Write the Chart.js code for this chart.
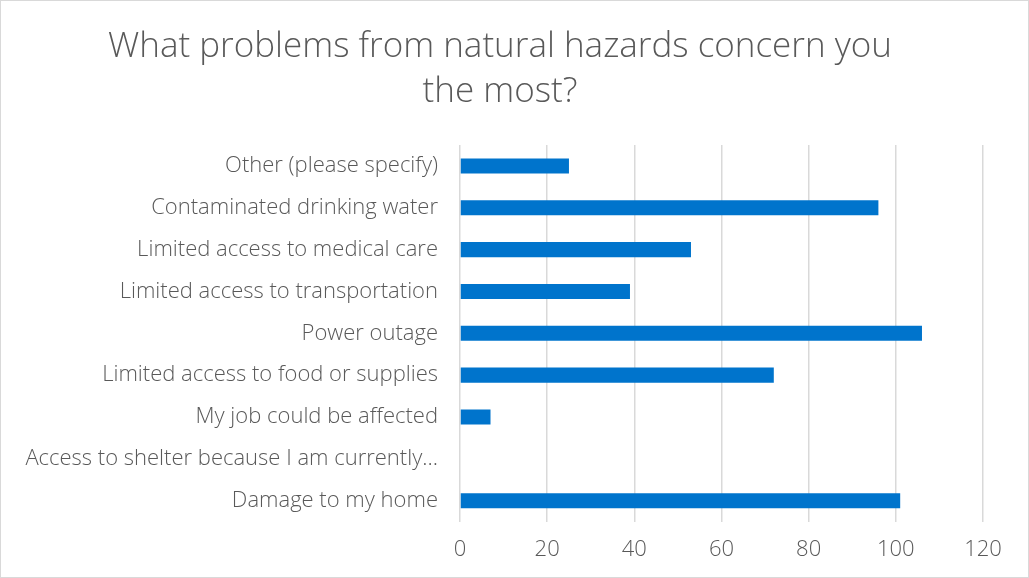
<!DOCTYPE html>
<html>
<head>
<meta charset="utf-8">
<script src="https://cdn.jsdelivr.net/npm/chart.js@4"></script>
<style>
  html, body { margin: 0; padding: 0; background: #fff; }
  #wrap { width: 1029px; height: 578px; position: relative; }
  canvas { display: block; outline: 1px solid #d9d9d9; outline-offset: -1px; }
</style>
</head>
<body>
<div id="wrap"><canvas id="grafico"></canvas></div>
<script>
// categorias de abajo hacia arriba en el eje
const categorias = [
  'Damage to my home',
  'Access to shelter because I am currently\u2026',
  'My job could be affected',
  'Limited access to food or supplies',
  'Power outage',
  'Limited access to transportation',
  'Limited access to medical care',
  'Contaminated drinking water',
  'Other (please specify)'
];
const respuestas = [101, 0, 7, 72, 106, 39, 53, 96, 25];
const marcasEje = [0, 20, 40, 60, 80, 100, 120];

const fuente = "'Open Sans', 'Liberation Sans', sans-serif";
const gris = '#595959';

const ctx = document.getElementById('grafico').getContext('2d');
new Chart(ctx, {
  type: 'bar',
  data: {
    // se invierte para que "Other" quede arriba
    labels: categorias.slice().reverse(),
    datasets: [{
      data: respuestas.slice().reverse(),
      backgroundColor: '#0074cc',
      borderWidth: 0,
      barPercentage: 0.72,
      categoryPercentage: 0.5
    }]
  },
  options: {
    indexAxis: 'y',
    responsive: true,
    maintainAspectRatio: false,
    animation: false,
    layout: { padding: { left: 17, right: 46, top: 12, bottom: 0 } },
    plugins: {
      legend: { display: false },
      tooltip: { enabled: false },
      title: {
        display: true,
        text: ['What problems from natural hazards concern you', 'the most?'],
        color: gris,
        font: { family: fuente, size: 35, weight: '300', lineHeight: 1.3 },
        padding: { top: 12, bottom: 30 }
      }
    },
    scales: {
      x: {
        min: 0,
        max: 120,
        afterBuildTicks: (eje) => { eje.ticks = marcasEje.map(v => ({ value: v })); },
        grid: { color: '#d9d9d9', lineWidth: 1.5, drawTicks: false },
        border: { display: false },
        ticks: { color: gris, font: { family: fuente, size: 22, weight: '300' }, padding: 15 }
      },
      y: {
        grid: { display: false, drawTicks: false },
        border: { display: false },
        afterFit: (eje) => { eje.width = 443; },
        ticks: { color: gris, font: { family: fuente, size: 22, weight: '300' }, padding: 22, autoSkip: false }
      }
    }
  }
});
</script>
</body>
</html>
